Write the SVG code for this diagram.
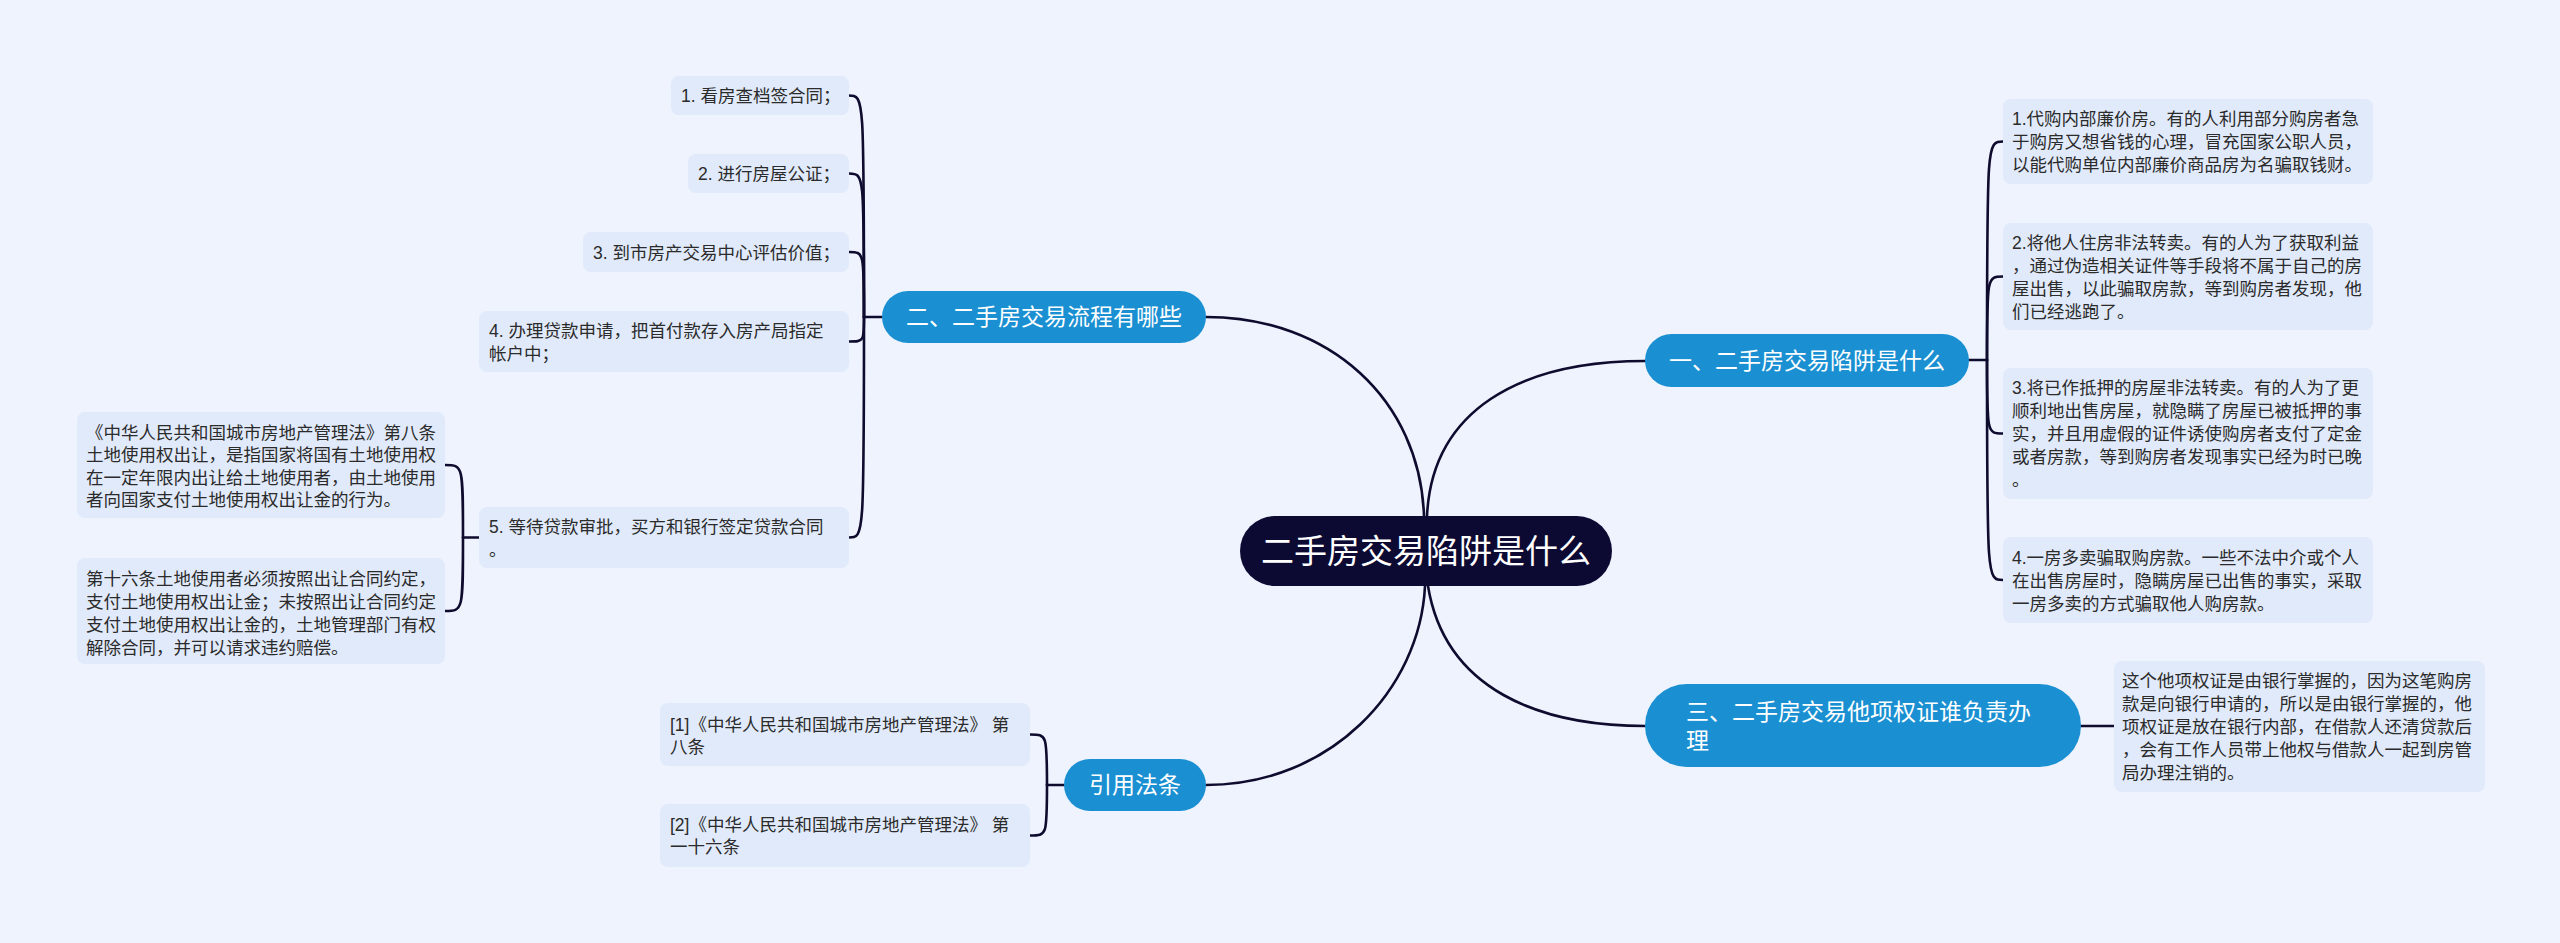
<svg xmlns="http://www.w3.org/2000/svg" width="2560" height="943" viewBox="0 0 2560 943">
<style>
text{font-family:"Liberation Sans","Noto Sans CJK SC",sans-serif}
.leaf{fill:#e1eafa}
.lt{font-size:17.5px;fill:#2b2b2b}
.main{fill:#1a90d2}
.mt{font-size:23px;fill:#ffffff}
.root{fill:#0c0a33}
.rt{font-size:33px;fill:#ffffff}
.ln{fill:none;stroke:#0e0b2e;stroke-width:2.6;stroke-linecap:round}
</style>
<rect x="0" y="0" width="2560" height="943" fill="#eef3fe"/>
<g id="connectors">
<path class="ln" d="M1427,516 C1432,410 1520,361 1645,361"/>
<path class="ln" d="M1424,516 C1420,400 1330,317 1206,317"/>
<path class="ln" d="M1425,586 C1420,690 1330,785 1206,785"/>
<path class="ln" d="M1428,586 C1445,690 1540,726 1645,726"/>
<path class="ln" d="M2081,726 L2114,726"/>
<path class="ln" d="M1969,360 L1987,360"/>
<path class="ln" d="M1987,360 C1987,141.5 1987,141.5 2003,141.5"/>
<path class="ln" d="M1987,360 C1987,276.5 1987,276.5 2003,276.5"/>
<path class="ln" d="M1987,360 C1987,433.5 1987,433.5 2003,433.5"/>
<path class="ln" d="M1987,360 C1987,580 1987,580 2003,580"/>
<path class="ln" d="M882,317 L864,317"/>
<path class="ln" d="M864,317 C864,95.5 864,95.5 849,95.5"/>
<path class="ln" d="M864,317 C864,173.5 864,173.5 849,173.5"/>
<path class="ln" d="M864,317 C864,252 864,252 849,252"/>
<path class="ln" d="M864,317 C864,341.5 864,341.5 849,341.5"/>
<path class="ln" d="M864,317 C864,537.5 864,537.5 849,537.5"/>
<path class="ln" d="M479,537.5 L463,537.5"/>
<path class="ln" d="M463,537.5 C463,465 463,465 445,465"/>
<path class="ln" d="M463,537.5 C463,611 463,611 445,611"/>
<path class="ln" d="M1064,785 L1047,785"/>
<path class="ln" d="M1047,785 C1047,734.5 1047,734.5 1030,734.5"/>
<path class="ln" d="M1047,785 C1047,835.5 1047,835.5 1030,835.5"/>
</g>
<g id="root">
<rect class="root" x="1240" y="516" width="372" height="70" rx="35"/>
<text class="rt" x="1426" y="563" text-anchor="middle">二手房交易陷阱是什么</text>
</g>
<g id="n1">
<rect class="main" x="1645" y="334" width="324" height="53" rx="26.5"/>
<text class="mt" x="1807" y="369" text-anchor="middle">一、二手房交易陷阱是什么</text>
</g>
<g id="n2">
<rect class="main" x="882" y="291" width="324" height="52" rx="26"/>
<text class="mt" x="1044" y="325" text-anchor="middle">二、二手房交易流程有哪些</text>
</g>
<g id="n3">
<rect class="main" x="1645" y="684" width="436" height="83" rx="41.5"/>
<text class="mt" x="1686" y="720">三、二手房交易他项权证谁负责办</text>
<text class="mt" x="1686" y="749">理</text>
</g>
<g id="n4">
<rect class="main" x="1064" y="759" width="142" height="52" rx="26"/>
<text class="mt" x="1135" y="793" text-anchor="middle">引用法条</text>
</g>
<g id="n1c1">
<rect class="leaf" x="2003" y="99" width="370" height="85" rx="8"/>
<text class="lt" x="2012" y="125">1.代购内部廉价房。有的人利用部分购房者急</text>
<text class="lt" x="2012" y="148">于购房又想省钱的心理，冒充国家公职人员，</text>
<text class="lt" x="2012" y="171">以能代购单位内部廉价商品房为名骗取钱财。</text>
</g>
<g id="n1c2">
<rect class="leaf" x="2003" y="223" width="370" height="107" rx="8"/>
<text class="lt" x="2012" y="248.5">2.将他人住房非法转卖。有的人为了获取利益</text>
<text class="lt" x="2012" y="271.5">，通过伪造相关证件等手段将不属于自己的房</text>
<text class="lt" x="2012" y="294.5">屋出售，以此骗取房款，等到购房者发现，他</text>
<text class="lt" x="2012" y="317.5">们已经逃跑了。</text>
</g>
<g id="n1c3">
<rect class="leaf" x="2003" y="368" width="370" height="131" rx="8"/>
<text class="lt" x="2012" y="394">3.将已作抵押的房屋非法转卖。有的人为了更</text>
<text class="lt" x="2012" y="417">顺利地出售房屋，就隐瞒了房屋已被抵押的事</text>
<text class="lt" x="2012" y="440">实，并且用虚假的证件诱使购房者支付了定金</text>
<text class="lt" x="2012" y="463">或者房款，等到购房者发现事实已经为时已晚</text>
<text class="lt" x="2012" y="486">。</text>
</g>
<g id="n1c4">
<rect class="leaf" x="2003" y="537" width="370" height="86" rx="8"/>
<text class="lt" x="2012" y="563.5">4.一房多卖骗取购房款。一些不法中介或个人</text>
<text class="lt" x="2012" y="586.5">在出售房屋时，隐瞒房屋已出售的事实，采取</text>
<text class="lt" x="2012" y="609.5">一房多卖的方式骗取他人购房款。</text>
</g>
<g id="n3c1">
<rect class="leaf" x="2114" y="661" width="371" height="131" rx="8"/>
<text class="lt" x="2122" y="687">这个他项权证是由银行掌握的，因为这笔购房</text>
<text class="lt" x="2122" y="710">款是向银行申请的，所以是由银行掌握的，他</text>
<text class="lt" x="2122" y="733">项权证是放在银行内部，在借款人还清贷款后</text>
<text class="lt" x="2122" y="756">，会有工作人员带上他权与借款人一起到房管</text>
<text class="lt" x="2122" y="779">局办理注销的。</text>
</g>
<g id="n2c1">
<rect class="leaf" x="671" y="76" width="178" height="39" rx="8"/>
<text class="lt" x="681" y="102">1. 看房查档签合同；</text>
</g>
<g id="n2c2">
<rect class="leaf" x="688" y="154" width="161" height="39" rx="8"/>
<text class="lt" x="698" y="180">2. 进行房屋公证；</text>
</g>
<g id="n2c3">
<rect class="leaf" x="583" y="232" width="266" height="40" rx="8"/>
<text class="lt" x="593" y="258.5">3. 到市房产交易中心评估价值；</text>
</g>
<g id="n2c4">
<rect class="leaf" x="479" y="311" width="370" height="61" rx="8"/>
<text class="lt" x="489" y="336.5">4. 办理贷款申请，把首付款存入房产局指定</text>
<text class="lt" x="489" y="359.5">帐户中；</text>
</g>
<g id="n2c5">
<rect class="leaf" x="479" y="507" width="370" height="61" rx="8"/>
<text class="lt" x="489" y="533">5. 等待贷款审批，买方和银行签定贷款合同</text>
<text class="lt" x="489" y="556">。</text>
</g>
<g id="n2c5a">
<rect class="leaf" x="77" y="412" width="368" height="106" rx="8"/>
<text class="lt" x="86" y="438.5">《中华人民共和国城市房地产管理法》第八条</text>
<text class="lt" x="86" y="461">土地使用权出让，是指国家将国有土地使用权</text>
<text class="lt" x="86" y="483.5">在一定年限内出让给土地使用者，由土地使用</text>
<text class="lt" x="86" y="506">者向国家支付土地使用权出让金的行为。</text>
</g>
<g id="n2c5b">
<rect class="leaf" x="77" y="558" width="368" height="106" rx="8"/>
<text class="lt" x="86" y="585">第十六条土地使用者必须按照出让合同约定，</text>
<text class="lt" x="86" y="608">支付土地使用权出让金；未按照出让合同约定</text>
<text class="lt" x="86" y="631">支付土地使用权出让金的，土地管理部门有权</text>
<text class="lt" x="86" y="654">解除合同，并可以请求违约赔偿。</text>
</g>
<g id="n4c1">
<rect class="leaf" x="660" y="703" width="370" height="63" rx="8"/>
<text class="lt" x="670" y="731">[1]《中华人民共和国城市房地产管理法》 第</text>
<text class="lt" x="670" y="753">八条</text>
</g>
<g id="n4c2">
<rect class="leaf" x="660" y="804" width="370" height="63" rx="8"/>
<text class="lt" x="670" y="831">[2]《中华人民共和国城市房地产管理法》 第</text>
<text class="lt" x="670" y="853">一十六条</text>
</g>
</svg>
